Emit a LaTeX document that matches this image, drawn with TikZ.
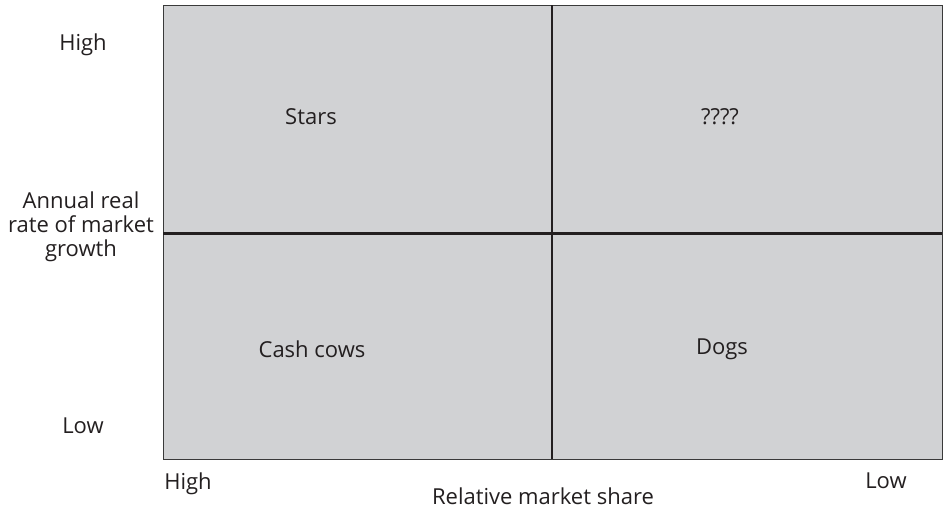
\documentclass[tikz,border=0pt]{standalone}
\usepackage{fontspec}
\setmainfont{Open Sans}
\definecolor{cellgray}{HTML}{D1D2D4}
\definecolor{edgegray}{HTML}{3A3A3A}
\definecolor{txt}{HTML}{231F20}
\begin{document}
\begin{tikzpicture}[x=1pt,y=-1pt,
  lbl/.style={font=\fontsize{22}{24}\selectfont, text=txt, align=center, inner sep=0pt},
  divider/.style={draw=txt, line width=2.2pt}]
\useasboundingbox (0,0) rectangle (944,512);
\node[draw=edgegray, line width=1pt, fill=cellgray, minimum width=779pt, minimum height=454pt, inner sep=0pt, anchor=north west] (grid) at (163,5) {};
\coordinate (vt) at (552,5);
\coordinate (vb) at (552,459);
\coordinate (hl) at (163,233.5);
\coordinate (hr) at (942,233.5);
\draw[divider] (vt) -- (vb);
\draw[divider] (hl) -- (hr);
\node[lbl] (stars) at (311,117) {Stars};
\node[lbl] (qq) at (720,117) {????};
\node[lbl] (cash) at (312,349) {Cash cows};
\node[lbl] (dogs) at (722,349) {Dogs};
\node[lbl] (yhigh) at (83,45) {High};
\node[lbl] (ylow) at (83,426) {Low};
\node[lbl] (ylab) at (81,227) {Annual real\\rate of market\\growth};
\node[lbl] (xhigh) at (188,484) {High};
\node[lbl] (xlow) at (886,481) {Low};
\node[lbl] (xlab) at (543,496) {Relative market share};
\end{tikzpicture}
\end{document}
